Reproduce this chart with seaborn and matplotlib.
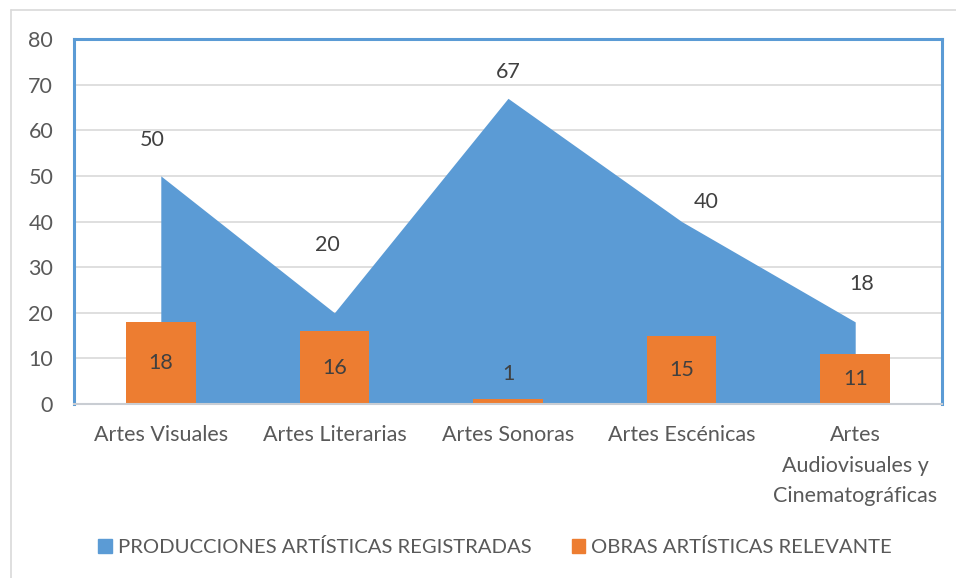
import pandas as pd
import matplotlib.pyplot as plt
import seaborn as sns
from matplotlib.patches import Patch

categorias = ['Artes Visuales', 'Artes Literarias', 'Artes Sonoras', 'Artes Escénicas',
              'Artes\nAudiovisuales y\nCinematográficas']
producciones = [50, 20, 67, 40, 18]
obras = [18, 16, 1, 15, 11]
serie_area = 'PRODUCCIONES ARTÍSTICAS REGISTRADAS'
serie_barras = 'OBRAS ARTÍSTICAS RELEVANTE'

AZUL = '#5B9BD5'
NARANJA = '#ED7D31'
GRIS_TEXTO = '#595959'
FS = 15.5

# offsets of the area data labels (points), as Excel placed them
offsets_area = [(-6, 26), (-5, 49), (0, 19), (18, 14), (5, 27)]

df = pd.DataFrame({'categoria': categorias, 'obras': obras})

sns.set_theme(style='white')
plt.rcParams['font.family'] = ['Lato', 'DejaVu Sans']

fig = plt.figure(figsize=[9.56, 5.78], dpi=100)
ax = fig.add_axes([74 / 956, 1 - 404 / 578, 868 / 956, 365 / 578])

x = list(range(len(categorias)))
ax.fill_between(x, producciones, 0, color=AZUL, linewidth=0, zorder=2)
sns.barplot(data=df, x='categoria', y='obras', color=NARANJA, width=0.4, saturation=1,
            linewidth=0, ax=ax, zorder=3)

ax.set_xlim(-0.5, 4.5)
ax.set_ylim(0, 80)
ax.set_yticks(range(0, 81, 10))
ax.yaxis.grid(True, color='#D9D9D9', linewidth=1.2, zorder=0)
ax.set_axisbelow(True)
ax.set(xlabel=None, ylabel=None)

for side in ['top', 'left', 'right']:
    ax.spines[side].set_color(AZUL)
    ax.spines[side].set_linewidth(2.2)
ax.spines['bottom'].set_color('#C9CDD3')
ax.spines['bottom'].set_linewidth(1.5)
ax.spines['bottom'].set_zorder(4)

ax.tick_params(axis='both', length=0, labelsize=FS, labelcolor=GRIS_TEXTO)
ax.tick_params(axis='y', pad=15)
ax.tick_params(axis='x', pad=15)
for lbl in ax.get_xticklabels():
    lbl.set_linespacing(1.67)
    lbl.set_verticalalignment('top')

for i, v in enumerate(producciones):
    dx, dy = offsets_area[i]
    ax.annotate(str(v), (i, v), xytext=(dx, dy), textcoords='offset points',
                ha='center', va='center', fontsize=FS, color='#404040', zorder=5)

for i, v in enumerate(obras):
    if v >= 4:
        ax.text(i, v / 2, str(v), ha='center', va='center', fontsize=FS,
                color='#404040', zorder=5)
    else:
        ax.annotate(str(v), (i, v), xytext=(0, 18), textcoords='offset points',
                    ha='center', va='center', fontsize=FS, color='#404040', zorder=5)

handles = [Patch(color=AZUL, label=serie_area), Patch(color=NARANJA, label=serie_barras)]
leg = fig.legend(handles=handles, loc='center', bbox_to_anchor=(0.518, 1 - 547 / 578),
                 ncol=2, frameon=False, fontsize=14.6, handlelength=0.65, handleheight=0.65,
                 handletextpad=0.3, columnspacing=2.0)
for t in leg.get_texts():
    t.set_color(GRIS_TEXTO)

# outer chart frame (top and left edges visible)
fig.add_artist(plt.Line2D([11 / 956, 1], [1 - 10 / 578, 1 - 10 / 578], color='#D9D9D9',
                          linewidth=1.2, transform=fig.transFigure))
fig.add_artist(plt.Line2D([11 / 956, 11 / 956], [0, 1 - 10 / 578], color='#D9D9D9',
                          linewidth=1.2, transform=fig.transFigure))

plt.savefig('out.png', dpi=100)
